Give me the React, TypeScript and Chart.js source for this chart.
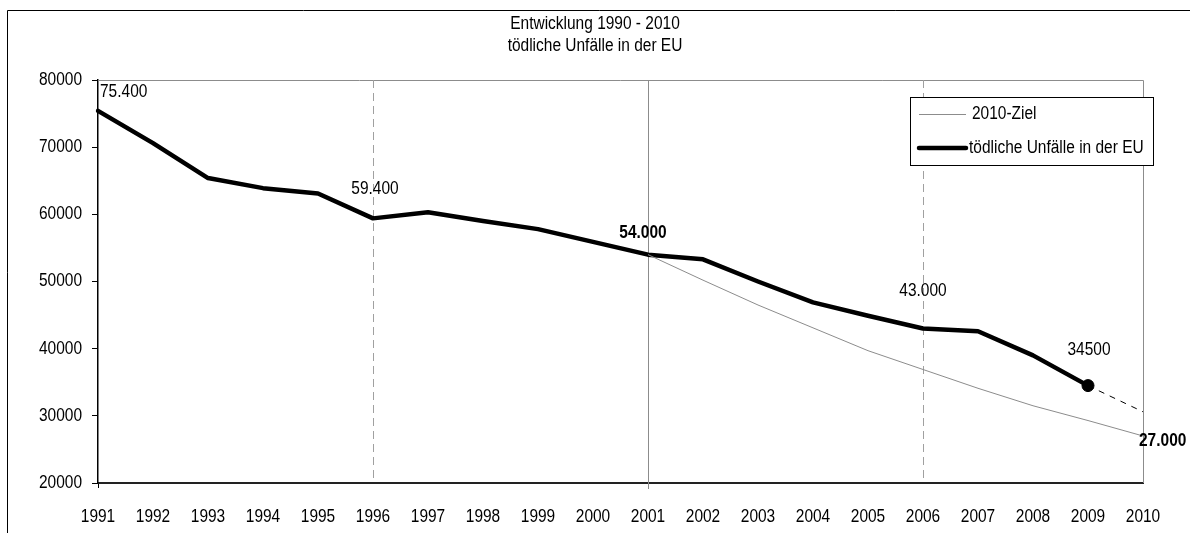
import React, { useEffect, useRef } from "react";
import { Chart, registerables } from "chart.js";

Chart.register(...registerables);

const YEARS = ["1991", "1992", "1993", "1994", "1995", "1996", "1997", "1998", "1999", "2000",
  "2001", "2002", "2003", "2004", "2005", "2006", "2007", "2008", "2009", "2010"];

const FATALITIES: (number | null)[] = [75400, 70600, 65400, 63900, 63100, 59400, 60300, 59000, 57800, 55900,
  54000, 53300, 50000, 46900, 44900, 43000, 42600, 39000, 34500, null];

const TARGET_2010: (number | null)[] = [null, null, null, null, null, null, null, null, null, null,
  54000, 50200, 46500, 43100, 39700, 36900, 34100, 31500, 29300, 27000];

const TREND: (number | null)[] = [null, null, null, null, null, null, null, null, null, null,
  null, null, null, null, null, null, null, null, 34500, 30600];

const Y_MIN = 20000;
const Y_MAX = 80000;
const Y_STEP = 10000;

const TITLE_LINES = ["Entwicklung 1990 - 2010", "tödliche Unfälle in der EU"];
const LEGEND_LABELS = ["2010-Ziel", "tödliche Unfälle in der EU"];

const VALUE_LABEL_YEARS = ["1991", "1996", "2001", "2006", "2009", "2010"];
const VALUE_LABEL_VALUES = [75400, 59400, 54000, 43000, 34500, 27000];
const VALUE_LABEL_TEXTS = ["75.400", "59.400", "54.000", "43.000", "34500", "27.000"];
const VALUE_LABEL_BOLD = [false, false, true, false, false, true];

const DASHED_YEARS = ["1996", "2006"];
const SOLID_YEARS = ["2001"];

const FONT = "'Liberation Sans', Arial, sans-serif";
const FONT_SIZE = 18;
const NARROW = 0.86; // horizontal condensing of all text

// label placement styles (offsets in px relative to the data point)
const LABEL_STYLE = [
  { dx: 2, dy: -19, align: "left" },
  { dx: 2, dy: -29, align: "center" },
  { dx: -5, dy: -22, align: "center" },
  { dx: 0, dy: -37, align: "center" },
  { dx: 1, dy: -36, align: "center" },
  { dx: -4, dy: 5, align: "left" },
];

function narrowText(ctx: any, text: string, x: number, y: number, align: string, bold = false, size = FONT_SIZE) {
  ctx.save();
  ctx.font = `${bold ? "bold " : ""}${size}px ${FONT}`;
  ctx.fillStyle = "#000";
  ctx.textAlign = align;
  ctx.textBaseline = "middle";
  ctx.translate(x, y);
  ctx.scale(NARROW, 1);
  ctx.fillText(text, 0, 0);
  ctx.restore();
}

const decorPlugin = {
  id: "decor",
  beforeDraw(chart: any) {
    const ctx = chart.ctx;
    ctx.save();
    ctx.fillStyle = "#fff";
    ctx.fillRect(0, 0, chart.width, chart.height);
    // outer frame (top and left visible)
    ctx.strokeStyle = "#000";
    ctx.lineWidth = 1;
    ctx.beginPath();
    ctx.moveTo(7.5, chart.height + 5);
    ctx.lineTo(7.5, 10.5);
    ctx.lineTo(chart.width + 5, 10.5);
    ctx.stroke();
    ctx.restore();
    // title
    narrowText(ctx, TITLE_LINES[0], 595, 24, "center");
    narrowText(ctx, TITLE_LINES[1], 595, 46, "center");
  },
  beforeDatasetsDraw(chart: any) {
    const ctx = chart.ctx;
    const area = chart.chartArea;
    const xs = chart.scales.x;
    ctx.save();
    ctx.strokeStyle = "#8c8c8c";
    ctx.lineWidth = 1;
    // top & right plot frame
    ctx.beginPath();
    ctx.moveTo(area.left, Math.round(area.top) + 0.5);
    ctx.lineTo(Math.round(area.right) + 0.5, Math.round(area.top) + 0.5);
    ctx.lineTo(Math.round(area.right) + 0.5, area.bottom);
    ctx.stroke();
    // solid vertical
    SOLID_YEARS.forEach((y) => {
      const px = Math.round(xs.getPixelForValue(YEARS.indexOf(y))) + 0.5;
      ctx.beginPath();
      ctx.moveTo(px, area.top);
      ctx.lineTo(px, area.bottom + 6);
      ctx.stroke();
    });
    // dashed verticals
    ctx.strokeStyle = "#a0a0a0";
    ctx.setLineDash([8, 5]);
    DASHED_YEARS.forEach((y) => {
      const px = Math.round(xs.getPixelForValue(YEARS.indexOf(y))) + 0.5;
      ctx.beginPath();
      ctx.moveTo(px, area.top);
      ctx.lineTo(px, area.bottom);
      ctx.stroke();
    });
    ctx.restore();
  },
  afterDatasetsDraw(chart: any) {
    const ctx = chart.ctx;
    const xs = chart.scales.x;
    const ys = chart.scales.y;
    const area = chart.chartArea;
    // axis tick labels, positioned by the scales
    xs.ticks.forEach((t: any, i: number) => {
      const px = xs.getPixelForTick(i);
      narrowText(ctx, String(t.label), px, area.bottom + 34, "center");
    });
    ys.ticks.forEach((t: any) => {
      const py = ys.getPixelForValue(t.value);
      narrowText(ctx, String(t.value), area.left - 16, py, "right");
    });
    // data value labels
    VALUE_LABEL_TEXTS.forEach((t, i) => {
      const st = LABEL_STYLE[i];
      const px = xs.getPixelForValue(YEARS.indexOf(VALUE_LABEL_YEARS[i]));
      const py = ys.getPixelForValue(VALUE_LABEL_VALUES[i]);
      narrowText(ctx, t, px + st.dx, py + st.dy, st.align, VALUE_LABEL_BOLD[i]);
    });
    // legend box
    ctx.save();
    const lx = 910, ly = 97, lw = 243, lh = 68;
    ctx.fillStyle = "#fff";
    ctx.fillRect(lx, ly, lw, lh);
    ctx.strokeStyle = "#000";
    ctx.lineWidth = 1;
    ctx.strokeRect(lx + 0.5, ly + 0.5, lw, lh);
    ctx.strokeStyle = "#8c8c8c";
    ctx.lineWidth = 1;
    ctx.beginPath();
    ctx.moveTo(919, 114.5);
    ctx.lineTo(966, 114.5);
    ctx.stroke();
    ctx.strokeStyle = "#000";
    ctx.lineWidth = 4.5;
    ctx.lineCap = "round";
    ctx.beginPath();
    ctx.moveTo(919, 148);
    ctx.lineTo(966, 148);
    ctx.stroke();
    ctx.restore();
    narrowText(ctx, LEGEND_LABELS[0], 972, 114, "left");
    narrowText(ctx, LEGEND_LABELS[1], 969, 148, "left");
  },
};

export default function App() {
  const ref = useRef<HTMLCanvasElement | null>(null);
  useEffect(() => {
    if (!ref.current) return;
    const chart = new Chart(ref.current, {
      type: "line",
      data: {
        labels: YEARS,
        datasets: [
          {
            label: LEGEND_LABELS[0],
            data: TARGET_2010,
            borderColor: "#8c8c8c",
            borderWidth: 1,
            pointRadius: 0,
            tension: 0,
          },
          {
            label: LEGEND_LABELS[1],
            data: FATALITIES,
            borderColor: "#000",
            backgroundColor: "#000",
            borderWidth: 4.5,
            borderJoinStyle: "round",
            borderCapStyle: "round",
            pointRadius: (c: any) => (c.dataIndex === 18 ? 6 : 0),
            pointBackgroundColor: "#000",
            pointBorderColor: "#000",
            pointBorderWidth: 1,
            tension: 0,
          },
          {
            label: "Trend",
            data: TREND,
            borderColor: "#000",
            borderWidth: 1,
            borderDash: [6, 6],
            pointRadius: 0,
            tension: 0,
          },
        ],
      },
      options: {
        responsive: false,
        animation: false,
        devicePixelRatio: 1,
        layout: { padding: { top: 80, right: 47, left: 0, bottom: 0 } },
        plugins: {
          legend: { display: false },
          title: { display: false },
          tooltip: { enabled: false },
        },
        scales: {
          x: {
            type: "category",
            offset: false,
            afterFit: (s: any) => { s.height = 50; },
            grid: {
              drawOnChartArea: false,
              drawTicks: true,
              tickLength: 5,
              color: (c: any) => (c.index === 0 || c.index === 10 ? "#000" : "rgba(0,0,0,0)"),
            },
            border: { color: "#222", width: 2 },
            ticks: { display: false, autoSkip: false, maxRotation: 0 },
          },
          y: {
            min: Y_MIN,
            max: Y_MAX,
            afterFit: (s: any) => { s.width = 98; },
            grid: {
              drawOnChartArea: false,
              drawTicks: true,
              tickLength: 6,
              color: "#000",
            },
            border: { color: "#000", width: 1.5 },
            ticks: { display: false, stepSize: Y_STEP },
          },
        },
      },
      plugins: [decorPlugin],
    });
    return () => chart.destroy();
  }, []);
  return (
    <div style={{ position: "absolute", left: 0, top: 0, width: 1190, height: 533, background: "#fff" }}>
      <canvas ref={ref} width={1190} height={533} style={{ width: 1190, height: 533, display: "block" }} />
    </div>
  );
}
